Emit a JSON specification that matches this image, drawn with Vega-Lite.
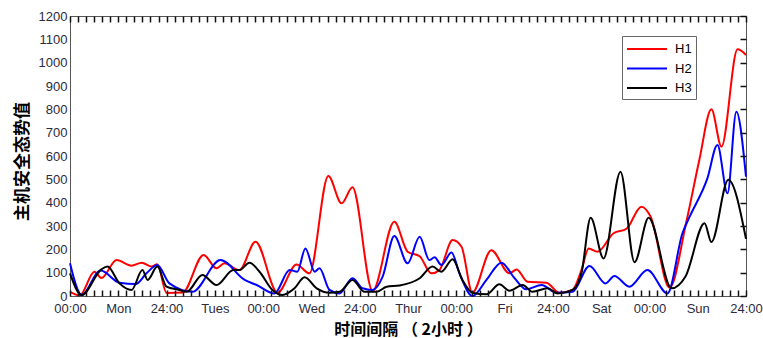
{
  "$schema": "https://vega.github.io/schema/vega-lite/v6.json",
  "width": 676,
  "height": 280,
  "autosize": "none",
  "padding": {"left": 70, "top": 16, "right": 17, "bottom": 42},
  "background": "white",
  "config": {
    "view": {"stroke": "#555555", "strokeWidth": 1},
    "axis": {"labelFont": "Liberation Sans", "labelFontSize": 13, "labelColor": "#2b2b40", "domainColor": "#555555", "grid": false}
  },
  "data": {
    "values": [
      {"series": "H1", "h": 0, "v": 18}, {"series": "H1", "h": 2.4, "v": 3}, {"series": "H1", "h": 6.1, "v": 104}, {"series": "H1", "h": 7.8, "v": 77},
      {"series": "H1", "h": 11.6, "v": 154}, {"series": "H1", "h": 15.3, "v": 130}, {"series": "H1", "h": 17.8, "v": 143}, {"series": "H1", "h": 20.3, "v": 126},
      {"series": "H1", "h": 21.7, "v": 136}, {"series": "H1", "h": 24.0, "v": 13}, {"series": "H1", "h": 28.0, "v": 15}, {"series": "H1", "h": 33.2, "v": 176},
      {"series": "H1", "h": 36.4, "v": 119}, {"series": "H1", "h": 38.4, "v": 140}, {"series": "H1", "h": 42.1, "v": 111}, {"series": "H1", "h": 46.1, "v": 233},
      {"series": "H1", "h": 51.6, "v": 14}, {"series": "H1", "h": 56.3, "v": 135}, {"series": "H1", "h": 59.5, "v": 97}, {"series": "H1", "h": 64.2, "v": 514},
      {"series": "H1", "h": 67.5, "v": 397}, {"series": "H1", "h": 70.2, "v": 466}, {"series": "H1", "h": 75.2, "v": 22}, {"series": "H1", "h": 80.6, "v": 318},
      {"series": "H1", "h": 83.9, "v": 190}, {"series": "H1", "h": 86.9, "v": 170}, {"series": "H1", "h": 89.8, "v": 97}, {"series": "H1", "h": 91.8, "v": 111},
      {"series": "H1", "h": 95.1, "v": 240}, {"series": "H1", "h": 97.3, "v": 211}, {"series": "H1", "h": 100.0, "v": 15}, {"series": "H1", "h": 104.7, "v": 196},
      {"series": "H1", "h": 109.2, "v": 97}, {"series": "H1", "h": 111.0, "v": 114}, {"series": "H1", "h": 113.7, "v": 61}, {"series": "H1", "h": 118.4, "v": 57},
      {"series": "H1", "h": 121.6, "v": 14}, {"series": "H1", "h": 124.9, "v": 26}, {"series": "H1", "h": 127.1, "v": 111}, {"series": "H1", "h": 128.9, "v": 204},
      {"series": "H1", "h": 131.1, "v": 190}, {"series": "H1", "h": 135.1, "v": 269}, {"series": "H1", "h": 138.3, "v": 288}, {"series": "H1", "h": 142.0, "v": 383},
      {"series": "H1", "h": 144.3, "v": 340}, {"series": "H1", "h": 149.0, "v": 36}, {"series": "H1", "h": 153.2, "v": 320}, {"series": "H1", "h": 156.4, "v": 583},
      {"series": "H1", "h": 159.4, "v": 800}, {"series": "H1", "h": 161.9, "v": 640}, {"series": "H1", "h": 165.9, "v": 1057}, {"series": "H1", "h": 168, "v": 1033},

      {"series": "H2", "h": 0, "v": 140}, {"series": "H2", "h": 2.9, "v": 4}, {"series": "H2", "h": 7.6, "v": 109}, {"series": "H2", "h": 12.3, "v": 57},
      {"series": "H2", "h": 16.3, "v": 51}, {"series": "H2", "h": 19.0, "v": 97}, {"series": "H2", "h": 21.7, "v": 133}, {"series": "H2", "h": 24.7, "v": 54},
      {"series": "H2", "h": 30.4, "v": 18}, {"series": "H2", "h": 37.4, "v": 154}, {"series": "H2", "h": 43.4, "v": 69}, {"series": "H2", "h": 46.4, "v": 47},
      {"series": "H2", "h": 50.8, "v": 11}, {"series": "H2", "h": 54.6, "v": 111}, {"series": "H2", "h": 56.5, "v": 104}, {"series": "H2", "h": 58.5, "v": 204},
      {"series": "H2", "h": 60.8, "v": 104}, {"series": "H2", "h": 62.0, "v": 119}, {"series": "H2", "h": 64.5, "v": 26}, {"series": "H2", "h": 67.0, "v": 11},
      {"series": "H2", "h": 70.2, "v": 76}, {"series": "H2", "h": 72.7, "v": 33}, {"series": "H2", "h": 75.2, "v": 26}, {"series": "H2", "h": 77.7, "v": 83},
      {"series": "H2", "h": 80.6, "v": 257}, {"series": "H2", "h": 83.9, "v": 140}, {"series": "H2", "h": 86.9, "v": 254}, {"series": "H2", "h": 89.3, "v": 154},
      {"series": "H2", "h": 90.6, "v": 166}, {"series": "H2", "h": 92.3, "v": 133}, {"series": "H2", "h": 94.8, "v": 186}, {"series": "H2", "h": 96.8, "v": 97},
      {"series": "H2", "h": 100.0, "v": 0}, {"series": "H2", "h": 103.5, "v": 69}, {"series": "H2", "h": 107.2, "v": 143}, {"series": "H2", "h": 110.5, "v": 76},
      {"series": "H2", "h": 113.4, "v": 29}, {"series": "H2", "h": 117.2, "v": 47}, {"series": "H2", "h": 120.9, "v": 14}, {"series": "H2", "h": 124.9, "v": 18},
      {"series": "H2", "h": 129.1, "v": 129}, {"series": "H2", "h": 133.1, "v": 54}, {"series": "H2", "h": 135.3, "v": 86}, {"series": "H2", "h": 139.0, "v": 40},
      {"series": "H2", "h": 143.5, "v": 111}, {"series": "H2", "h": 148.5, "v": 11}, {"series": "H2", "h": 152.2, "v": 269}, {"series": "H2", "h": 154.0, "v": 340},
      {"series": "H2", "h": 158.4, "v": 504}, {"series": "H2", "h": 160.9, "v": 647}, {"series": "H2", "h": 163.4, "v": 440}, {"series": "H2", "h": 165.6, "v": 790},
      {"series": "H2", "h": 168, "v": 511},

      {"series": "H3", "h": 0, "v": 97}, {"series": "H3", "h": 2.9, "v": 4}, {"series": "H3", "h": 7.8, "v": 114}, {"series": "H3", "h": 9.3, "v": 126},
      {"series": "H3", "h": 12.3, "v": 54}, {"series": "H3", "h": 15.3, "v": 26}, {"series": "H3", "h": 18.0, "v": 111}, {"series": "H3", "h": 19.3, "v": 69},
      {"series": "H3", "h": 21.7, "v": 126}, {"series": "H3", "h": 24.0, "v": 40}, {"series": "H3", "h": 27.2, "v": 26}, {"series": "H3", "h": 29.0, "v": 18},
      {"series": "H3", "h": 32.9, "v": 90}, {"series": "H3", "h": 36.4, "v": 47}, {"series": "H3", "h": 40.6, "v": 111}, {"series": "H3", "h": 42.1, "v": 111},
      {"series": "H3", "h": 44.6, "v": 143}, {"series": "H3", "h": 47.1, "v": 104}, {"series": "H3", "h": 50.3, "v": 26}, {"series": "H3", "h": 52.8, "v": 4},
      {"series": "H3", "h": 55.8, "v": 33}, {"series": "H3", "h": 58.3, "v": 80}, {"series": "H3", "h": 61.3, "v": 33}, {"series": "H3", "h": 64.5, "v": 14},
      {"series": "H3", "h": 67.0, "v": 18}, {"series": "H3", "h": 70.2, "v": 69}, {"series": "H3", "h": 73.2, "v": 18}, {"series": "H3", "h": 76.2, "v": 18},
      {"series": "H3", "h": 78.7, "v": 40}, {"series": "H3", "h": 81.9, "v": 45}, {"series": "H3", "h": 86.9, "v": 76}, {"series": "H3", "h": 90.1, "v": 126},
      {"series": "H3", "h": 92.3, "v": 104}, {"series": "H3", "h": 95.1, "v": 157}, {"series": "H3", "h": 97.5, "v": 69}, {"series": "H3", "h": 100.0, "v": 14},
      {"series": "H3", "h": 103.5, "v": 7}, {"series": "H3", "h": 106.7, "v": 50}, {"series": "H3", "h": 109.2, "v": 23}, {"series": "H3", "h": 112.5, "v": 47},
      {"series": "H3", "h": 114.9, "v": 18}, {"series": "H3", "h": 118.7, "v": 33}, {"series": "H3", "h": 121.2, "v": 11}, {"series": "H3", "h": 124.9, "v": 26},
      {"series": "H3", "h": 127.1, "v": 97}, {"series": "H3", "h": 129.4, "v": 335}, {"series": "H3", "h": 132.6, "v": 161}, {"series": "H3", "h": 136.8, "v": 533},
      {"series": "H3", "h": 140.3, "v": 145}, {"series": "H3", "h": 143.8, "v": 335}, {"series": "H3", "h": 149.5, "v": 33}, {"series": "H3", "h": 153.0, "v": 85},
      {"series": "H3", "h": 157.7, "v": 312}, {"series": "H3", "h": 159.4, "v": 231}, {"series": "H3", "h": 163.6, "v": 498}, {"series": "H3", "h": 168, "v": 245}
    ]
  },
  "layer": [
    {
      "mark": {"type": "line", "interpolate": "monotone", "strokeWidth": 2},
      "encoding": {
        "x": {
          "field": "h", "type": "quantitative",
          "scale": {"domain": [0, 168], "nice": false, "zero": false},
          "axis": {
            "orient": "bottom",
            "offset": -6,
            "domain": false,
            "ticks": true,
            "tickColor": "#111111",
            "tickWidth": 1.5,
            "zindex": 1,
            "values": [0,2,4,6,8,10,12,14,16,18,20,22,24,26,28,30,32,34,36,38,40,42,44,46,48,50,52,54,56,58,60,62,64,66,68,70,72,74,76,78,80,82,84,86,88,90,92,94,96,98,100,102,104,106,108,110,112,114,116,118,120,122,124,126,128,130,132,134,136,138,140,142,144,146,148,150,152,154,156,158,160,162,164,166,168],
            "labelExpr": "datum.value % 12 == 0 ? ['00:00','Mon','24:00','Tues','00:00','Wed','24:00','Thur','00:00','Fri','24:00','Sat','00:00','Sun','24:00'][datum.value / 12] : ''",
            "labelOverlap": false,
            "labelFlush": false,
            "tickSize": 6,
            "labelPadding": 6,
            "title": "时间间隔 （ 2小时 ）",
            "titleFont": "Noto Sans CJK SC",
            "titleFontSize": 16,
            "titleFontWeight": "bold",
            "titleColor": "#000000",
            "titleBaseline": "middle",
            "titleY": 39
          }
        },
        "y": {
          "field": "v", "type": "quantitative",
          "scale": {"domain": [0, 1200], "nice": false},
          "axis": {
            "orient": "left",
            "values": [0,100,200,300,400,500,600,700,800,900,1000,1100,1200],
            "format": "d",
            "ticks": false,
            "labelPadding": 3,
            "title": "主机安全态势值",
            "titleFont": "Noto Sans CJK SC",
            "titleFontSize": 17,
            "titleFontWeight": "bold",
            "titleColor": "#000000",
            "titleX": -48,
            "titleY": 145,
            "titleAngle": -90,
            "titleBaseline": "middle"
          }
        },
        "color": {
          "field": "series", "type": "nominal",
          "scale": {"domain": ["H1", "H2", "H3"], "range": ["#ff0000", "#0000ff", "#000000"]},
          "legend": {
            "title": null,
            "orient": "none",
            "legendX": 552,
            "legendY": 20,
            "symbolType": "M-2.5,0H2.5",
            "symbolSize": 256,
            "symbolStrokeWidth": 2,
            "symbolOffset": 12,
            "labelOffset": 19,
            "labelFont": "Liberation Sans",
            "labelFontSize": 13,
            "labelColor": "#000000",
            "rowPadding": 3.5,
            "padding": 4,
            "strokeColor": "#666666",
            "fillColor": "#ffffff"
          }
        }
      }
    },
    {
      "mark": {"type": "line", "opacity": 0},
      "encoding": {
        "detail": {"field": "series"},
        "x": {
          "field": "h", "type": "quantitative",
          "axis": {
            "orient": "top",
            "offset": -6,
            "domain": false,
            "ticks": true,
            "tickColor": "#111111",
            "tickWidth": 1.5,
            "zindex": 1,
            "values": [0,2,4,6,8,10,12,14,16,18,20,22,24,26,28,30,32,34,36,38,40,42,44,46,48,50,52,54,56,58,60,62,64,66,68,70,72,74,76,78,80,82,84,86,88,90,92,94,96,98,100,102,104,106,108,110,112,114,116,118,120,122,124,126,128,130,132,134,136,138,140,142,144,146,148,150,152,154,156,158,160,162,164,166,168],
            "labels": false,
            "tickSize": 6,
            "title": null
          }
        },
        "y": {
          "field": "v", "type": "quantitative",
          "axis": {
            "orient": "right",
            "offset": -6,
            "domain": false,
            "ticks": true,
            "tickColor": "#111111",
            "tickWidth": 1.5,
            "zindex": 1,
            "values": [0,100,200,300,400,500,600,700,800,900,1000,1100,1200],
            "labels": false,
            "tickSize": 6,
            "title": null
          }
        }
      }
    }
  ],
  "resolve": {"axis": {"x": "independent", "y": "independent"}}
}
